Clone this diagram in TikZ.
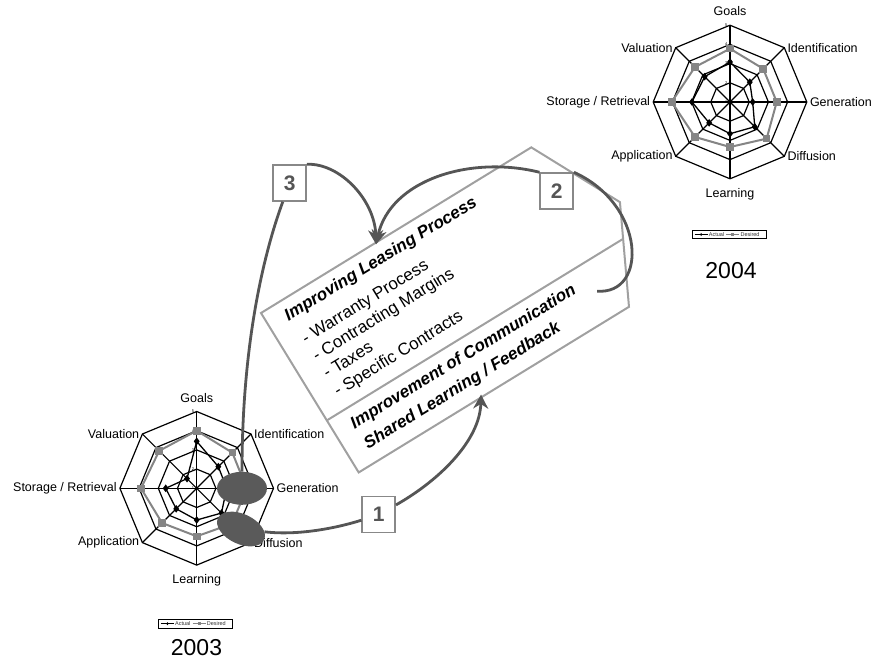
\documentclass[tikz,border=0pt]{standalone}
\usepackage{fontspec}
\setmainfont{Liberation Sans}
\usetikzlibrary{shapes.geometric, arrows.meta, positioning, plotmarks}
\definecolor{desiredgray}{HTML}{858585}
\definecolor{arrowgray}{HTML}{555555}
\definecolor{framegray}{HTML}{A0A0A0}
\definecolor{blobgray}{HTML}{5A5A5A}
\definecolor{stepgray}{HTML}{888888}

\begin{document}
\begin{tikzpicture}[
        x=1pt, y=-1pt,
        ring/.style={draw=black, line width=1.2pt},
        spoke/.style={black, line width=1.2pt},
        axislabel/.style={font=\fontsize{12.5}{15}\selectfont, inner sep=3pt},
        tick/.style={font=\fontsize{4}{4}\selectfont, inner sep=0.5pt, anchor=east, xshift=-2pt},
        actual/.style={black, line width=1.3pt, mark=diamond*, mark size=2.8pt, mark options={fill=black}},
        desired/.style={desiredgray, line width=2pt, mark=square*, mark size=2.8pt, mark options={fill=desiredgray}},
        legbox/.style={rectangle, draw, line width=0.7pt, minimum width=74pt, minimum height=8.5pt, inner sep=0pt},
        legtext/.style={font=\fontsize{5.5}{6}\selectfont, inner sep=0.8pt, text=black!80},
        actmark/.style={diamond, fill=black, inner sep=0pt, minimum width=2.5pt, minimum height=3.5pt},
        desmark/.style={rectangle, fill=desiredgray, inner sep=0pt, minimum size=3pt},
        year/.style={font=\fontsize{23}{26}\selectfont},
        blob/.style={ellipse, fill=blobgray, inner sep=0pt},
        stepbox/.style={rectangle, draw=stepgray, line width=1.5pt, fill=white, minimum width=33pt, minimum height=36pt, font=\fontsize{21}{24}\selectfont\bfseries, text=arrowgray},
        head/.style={font=\fontsize{17}{20}\selectfont\bfseries\itshape, anchor=base west, inner sep=0pt, transform shape},
        item/.style={font=\fontsize{17}{20}\selectfont, anchor=base west, inner sep=0pt, transform shape},
        link/.style={arrowgray, line width=2.8pt},
        arrow/.style={link, ->, >={Stealth[length=14pt, width=15pt]}}
        ]
        \useasboundingbox (0,0) rectangle (872,661);

        % Top Right: 2004 chart
        \begin{scope}[shift={(730,102)}]
            \foreach \r in {19.2,38.4,57.6,76.8}
                \draw[ring] (-90:\r) -- (-45:\r) -- (0:\r) -- (45:\r) -- (90:\r) -- (135:\r) -- (180:\r) -- (225:\r) -- cycle;
            \foreach \a in {-90,-45,...,225}
                \draw[spoke] (0,0) -- (\a:76.8);
            \foreach \k/\r in {1/0,2/19.2,3/38.4,4/57.6,5/76.8}
                \node[tick] (tickB\k) at (-90:\r) {\k};
            \draw[desired] plot coordinates {(-90:53.3) (-45:47) (0:46.7) (45:51.8) (90:45) (135:49.5) (180:58.3) (225:49.5)} -- cycle;
            \draw[actual] plot coordinates {(-90:40) (-45:28) (0:22.7) (45:35) (90:31.7) (135:29.5) (180:38) (225:35.8)} -- cycle;
            \node[axislabel, anchor=south, yshift=6pt] (goalsB) at (-90:76.8) {Goals};
            \node[axislabel, anchor=west] (identB) at (-45:76.8) {Identification};
            \node[axislabel, anchor=west] (genB) at (0:76.8) {Generation};
            \node[axislabel, anchor=west] (diffB) at (45:76.8) {Diffusion};
            \node[axislabel, anchor=north, yshift=-6pt] (learnB) at (90:76.8) {Learning};
            \node[axislabel, anchor=east] (applB) at (135:76.8) {Application};
            \node[axislabel, anchor=east] (storB) at (180:76.8) {Storage / Retrieval};
            \node[axislabel, anchor=east] (valB) at (225:76.8) {Valuation};
        \end{scope}
        \node[legbox] (legB) at (729.5,234.5) {};
        \draw[black, line width=0.8pt] ([xshift=2.5pt]legB.west) -- node[actmark] (legBam) {} ++(13,0) node[legtext, anchor=west] (legBa) {Actual};
        \draw[desiredgray, line width=0.8pt] (legBa.east) ++(1,0) -- node[desmark] (legBdm) {} ++(13,0) node[legtext, anchor=west] (legBd) {Desired};
        \node[year] (yearB) at (731,271) {2004};

        % Bottom Left: 2003 chart
        \begin{scope}[shift={(196.7,488.3)}]
            \foreach \r in {19.2,38.4,57.6,76.8}
                \draw[ring] (-90:\r) -- (-45:\r) -- (0:\r) -- (45:\r) -- (90:\r) -- (135:\r) -- (180:\r) -- (225:\r) -- cycle;
            \foreach \a in {-90,-45,...,225}
                \draw[spoke] (0,0) -- (\a:76.8);
            \foreach \k/\r in {1/0,2/19.2,3/38.4,4/57.6,5/76.8}
                \node[tick] (tickA\k) at (-90:\r) {\k};
            \draw[desired] plot coordinates {(-90:57.6) (-45:50.4) (0:50) (45:50) (90:48) (135:49) (180:55.7) (225:53)} -- cycle;
            \draw[actual] plot coordinates {(-90:47) (-45:30.6) (0:30) (45:35) (90:31.7) (135:29) (180:31) (225:13.7)} -- cycle;
            \node[axislabel, anchor=south, yshift=6pt] (goalsA) at (-90:76.8) {Goals};
            \node[axislabel, anchor=west] (identA) at (-45:76.8) {Identification};
            \node[axislabel, anchor=west] (genA) at (0:76.8) {Generation};
            \node[axislabel, anchor=west] (diffA) at (45:76.8) {Diffusion};
            \node[axislabel, anchor=north, yshift=-6pt] (learnA) at (90:76.8) {Learning};
            \node[axislabel, anchor=east] (applA) at (135:76.8) {Application};
            \node[axislabel, anchor=east] (storA) at (180:76.8) {Storage / Retrieval};
            \node[axislabel, anchor=east] (valA) at (225:76.8) {Valuation};
        \end{scope}
        \node[legbox] (legA) at (195.8,623.7) {};
        \draw[black, line width=0.8pt] ([xshift=2.5pt]legA.west) -- node[actmark] (legAam) {} ++(13,0) node[legtext, anchor=west] (legAa) {Actual};
        \draw[desiredgray, line width=0.8pt] (legAa.east) ++(1,0) -- node[desmark] (legAdm) {} ++(13,0) node[legtext, anchor=west] (legAd) {Desired};
        \node[year] (yearA) at (196.5,647.5) {2003};

        % Blobs on generation and diffusion
        \node[blob, minimum width=50pt, minimum height=33pt] (blobGen) at (242,488.3) {};
        \node[blob, minimum width=51pt, minimum height=30pt, rotate=-25] (blobDiff) at (241,529) {};

        % Middle: the tilted process frame
        \begin{scope}[shift={(261,313)}, rotate=31.5]
            \draw[framegray, line width=2pt] (0,0) -- (317,0) -- (364,93) -- (317,187) -- (0,187) -- cycle;
            \draw[framegray, line width=2pt] (0,126) -- (347.5,126);
            \node[head] (lease) at (19,21.5) {Improving Leasing Process};
            \node[item] (warranty) at (22,50) {- Warranty Process};
            \node[item] (margins) at (22,70.5) {- Contracting Margins};
            \node[item] (taxes) at (22,91) {- Taxes};
            \node[item] (contracts) at (22,111.5) {- Specific Contracts};
            \node[head] (comm) at (19,148) {Improvement of Communication};
            \node[head] (shared) at (20,172) {Shared Learning / Feedback};
            \coordinate (commEnd) at (298,157);
            \coordinate (commTip) at (145,184.5);
            \coordinate (leaseTip) at (134,1.5);
        \end{scope}

        % Numbered steps
        \node[stepbox] (n1) at (378.7,514.7) {1};
        \node[stepbox] (n2) at (556.7,191) {2};
        \node[stepbox] (n3) at (289.7,183) {3};

        % 1: diffusion to communication
        \draw[link] (blobDiff) .. controls (300,536) and (340,527) .. (n1);
        \draw[arrow] (n1) .. controls (440,480) and (480,440) .. (commTip);
        % 2: communication round to leasing
        \draw[link] (commEnd) .. controls (648,295) and (646,205) .. (n2.north east);
        \draw[arrow] (n2.north west) .. controls (470,155) and (390,180) .. (leaseTip);
        % 3: generation up to leasing
        \draw[link] (blobGen) .. controls (242,340) and (265,250) .. (n3);
        \draw[arrow] (n3.north east) .. controls (340,163) and (375,200) .. (leaseTip);

\end{tikzpicture}
\end{document}
